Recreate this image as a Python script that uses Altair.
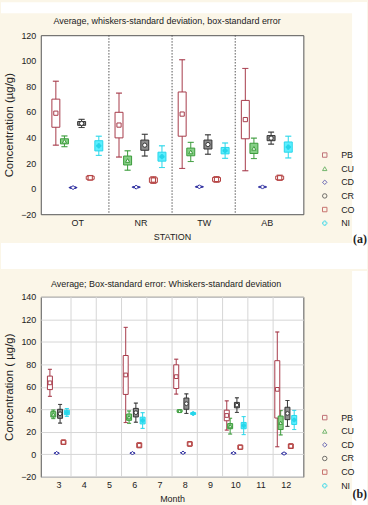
import altair as alt
import pandas as pd

# ---------------- data ----------------
elements = ["PB", "CU", "CD", "CR", "CO", "NI"]
stations = ["OT", "NR", "TW", "AB"]
months = [3, 6, 8, 10, 12]
month_ticks = [3, 4, 5, 6, 7, 8, 9, 10, 11, 12]

# (a) by station: mean, standard error (box), standard deviation (whiskers)
a_mean = {"PB": [59, 49.7, 58.3, 54], "CU": [37, 22, 28.7, 31.5], "CD": [0.8, 1.2, 1.4, 1.3],
          "CR": [51, 34, 34.5, 39.5], "CO": [8.5, 6.7, 7.2, 8.5], "NI": [33.5, 25, 29.7, 32.5]}
a_se = {"PB": [11, 10, 17.3, 15], "CU": [2, 3.5, 3, 4], "CD": [0.2, 0.2, 0.2, 0.2],
        "CR": [1.5, 4, 3.5, 2], "CO": [1.2, 1.8, 1.5, 1.3], "NI": [4, 3.5, 2.5, 4]}
a_sd = {"PB": [25, 25, 42.5, 40], "CU": [4.2, 7.6, 7.5, 8], "CD": [0.5, 0.5, 0.5, 0.5],
        "CR": [3.2, 8.5, 7.6, 4.7], "CO": [1.8, 2.6, 2.2, 2.0], "NI": [7.5, 8.5, 6, 8.5]}

# (b) by month
b_mean = {"PB": [63.5, 70.5, 69, 34.5, 57.7], "CU": [35.5, 33, 38.5, 25, 28], "CD": [1.0, 1.0, 1.3, 1.0, 0.7],
          "CR": [36, 37, 45, 43.7, 36.3], "CO": [10.7, 8, 9.2, 6.3, 7.2], "NI": [37.2, 30, 36.2, 25.5, 30.5]}
b_se = {"PB": [6, 17.3, 10.5, 4.7, 25.5], "CU": [2.4, 2.8, 1, 2.3, 6], "CD": [0.2, 0.2, 0.2, 0.2, 0.2],
        "CR": [4, 3.8, 5, 2.4, 5.5], "CO": [1.9, 2.1, 1.9, 1.8, 2.0], "NI": [2, 3, 0.8, 2.8, 4]}
b_sd = {"PB": [12, 42.3, 15.5, 13, 51], "CU": [3.8, 5.5, 1, 7, 10.8], "CD": [0.3, 0.3, 0.3, 0.3, 0.3],
        "CR": [8.3, 8.5, 8.7, 6.5, 11.5], "CO": [1.9, 2.1, 1.9, 1.8, 2.0], "NI": [3.5, 7, 0.8, 8, 8.5]}

# ---------------- styles ----------------
FONT = "Liberation Sans"
W = 264
HA = 180
HB = 181
BEIGE = "#fbf6e8"
line_colors = ["#a63a4a", "#3b9b3b", "#2b2b9e", "#333333", "#b23c3c", "#27d6ea"]
box_fills = ["#ffffff", "#86cf86", "#ffffff", "#8e8e8e", "#ffffff", "#5cefff"]
mark_fills = ["#ffffff", "#ffffff", "#ffffff", "#ffffff", "#ffffff", "#27d6ea"]
shapes = ["square", "triangle-up", "diamond", "circle", "square", "cross"]
box_keys = [e + " box" for e in elements]
mark_keys = [e + " mean" for e in elements]


def build_table(centres, means, ses, sds, step):
    rows = []
    mid = (len(elements) - 1) / 2
    for k, el in enumerate(elements):
        for i, c in enumerate(centres):
            m, se, sd = means[el][i], ses[el][i], sds[el][i]
            rows.append({"element": el, "bkey": box_keys[k], "mkey": mark_keys[k],
                         "pos": c + (k - mid) * step, "mean": m,
                         "se_lo": m - se, "se_hi": m + se, "sd_lo": m - sd, "sd_hi": m + sd})
    return pd.DataFrame(rows)


one = pd.DataFrame({"k": [0]})


def rect(x1, x2, y1, y2, color="white"):
    return alt.Chart(one).mark_rect(color=color).encode(
        x=alt.value(x1), x2=alt.value(x2), y=alt.value(y1), y2=alt.value(y2))


def label(text, x, y, size, font, weight="normal", align="center"):
    return alt.Chart(pd.DataFrame({"t": [text]})).mark_text(
        fontSize=size, font=font, fontWeight=weight, align=align, baseline="middle", color="#222"
    ).encode(text="t:N", x=alt.value(x), y=alt.value(y))


def panel(df, H, xs, x_axis, ys, yvals, y_title, grid_y, box_w, cap_w, pt_size, guide_df, guide_field,
          guide_style, decor, texts, legend_y):
    stroke_sc = alt.Scale(domain=elements, range=line_colors)
    shape_sc = alt.Scale(domain=elements, range=shapes)
    fill_sc = alt.Scale(domain=box_keys + mark_keys, range=box_fills + mark_fills)
    y_axis = alt.Axis(orient="left", values=yvals, title=y_title, titleFontSize=11.5, titleFont=FONT,
                      titleFontWeight="normal", titleColor="#222", titleX=-31, titleY=H / 2,
                      titleAngle=270, titleAlign="center", titleBaseline="middle",
                      labelFont=FONT, labelFontSize=9,
                      labelColor="#222", labelPadding=5, ticks=False,
                      domain=False, grid=grid_y, gridColor="#d6d6d6", labelFlush=False)
    leg = alt.Legend(orient="none", legendX=281, legendY=legend_y, title=None, labelFont=FONT,
                     labelFontSize=9, labelColor="#222", symbolSize=20, symbolStrokeWidth=1,
                     symbolFillColor="transparent", labelOffset=12, rowPadding=3.7, padding=0)

    def X(field):
        return alt.X(field, scale=xs, axis=x_axis)

    def Y(field):
        return alt.Y(field, scale=ys, axis=y_axis)

    col = alt.Color("element:N", scale=stroke_sc, sort=elements, legend=leg)
    base = alt.Chart(df)
    guides = alt.Chart(guide_df).mark_rule(**guide_style).encode(x=X(guide_field))
    whisk = base.mark_rule(strokeWidth=1).encode(x=X("pos:Q"), y=Y("sd_lo:Q"), y2="sd_hi:Q", color=col)
    cap_lo = base.mark_tick(orient="horizontal", size=cap_w, thickness=0, filled=False, strokeWidth=1).encode(
        x=X("pos:Q"), y=Y("sd_lo:Q"), color=col)
    cap_hi = base.mark_tick(orient="horizontal", size=cap_w, thickness=0, filled=False, strokeWidth=1).encode(
        x=X("pos:Q"), y=Y("sd_hi:Q"), color=col)
    box = base.mark_bar(size=box_w, strokeWidth=1).encode(
        x=X("pos:Q"), y=Y("se_lo:Q"), y2="se_hi:Q",
        stroke=alt.Stroke("bkey:N", scale=alt.Scale(domain=box_keys, range=line_colors), legend=None),
        fill=alt.Fill("bkey:N", scale=fill_sc, legend=None))
    pts = base.mark_point(filled=False, size=pt_size, strokeWidth=1, opacity=1).encode(
        x=X("pos:Q"), y=Y("mean:Q"), color=col,
        shape=alt.Shape("element:N", scale=shape_sc, sort=elements, legend=leg),
        fill=alt.Fill("mkey:N", scale=fill_sc, legend=None))
    layers = decor + [guides, whisk, cap_lo, cap_hi, box, pts] + texts
    return alt.layer(*layers).properties(width=W, height=H)


# ---------------- panel (a) ----------------
centres_a = [i + 0.5 for i in range(len(stations))]
df_a = build_table(centres_a, a_mean, a_se, a_sd, 0.136)
xs_a = alt.Scale(domain=[0, len(stations)], nice=False, zero=False)
ys_a = alt.Scale(domain=[-20, 120], nice=False, zero=False)
names_js = "[" + ",".join("'" + s + "'" for s in stations) + "]"
x_axis_a = alt.Axis(orient="bottom", values=centres_a, labelExpr=names_js + "[floor(datum.value)]",
                    title="STATION", ticks=False, domain=False, grid=False, labelPadding=4,
                    titlePadding=5, labelFont=FONT, labelFontSize=9, labelColor="#222", titleFont=FONT,
                    titleFontSize=9, titleFontWeight="normal", titleColor="#222", labelFlush=False)
div_df = pd.DataFrame({"b": list(range(1, len(stations)))})
decor_a = [rect(-40, 328, -33, -22), rect(313, 328, -33, 235), rect(-40, 328, 209, 235)]
texts_a = [label("Average, whiskers-standard deviation, box-standard error", W / 2 - 5, -14, 9, FONT),
           label("(a)", 328, 205, 12, "Liberation Serif", "bold", "right")]
pa = panel(df_a, HA, xs_a, x_axis_a, ys_a, list(range(-20, 121, 20)), "Concentration (µg/g)", False,
           8, 6, 18, div_df, "b:Q", {"color": "#555", "strokeWidth": 1, "strokeDash": [1.5, 1.5]},
           decor_a, texts_a, 116)

# ---------------- panel (b) ----------------
df_b = build_table(months, b_mean, b_se, b_sd, 0.134)
xs_b = alt.Scale(domain=[month_ticks[0] - 0.5, month_ticks[-1] + 0.5], nice=False, zero=False)
ys_b = alt.Scale(domain=[-20, 140], nice=False, zero=False)
x_axis_b = alt.Axis(orient="bottom", values=month_ticks, format="d", title="Month", ticks=False,
                    domain=False, grid=False, labelPadding=4, titlePadding=5, labelFont=FONT, labelFontSize=9,
                    labelColor="#222", titleFont=FONT, titleFontSize=9, titleFontWeight="normal",
                    titleColor="#222", labelFlush=False)
half_df = pd.DataFrame({"h": [m + 0.5 for m in month_ticks[:-1]]})
decor_b = [rect(313, 328, -26, 211)]
texts_b = [label("Average; Box-standard error: Whiskers-standard deviation", W / 2 - 6, -13, 9, FONT),
           label("(b)", 328, 198, 12, "Liberation Serif", "bold", "right")]
pb = panel(df_b, HB, xs_b, x_axis_b, ys_b, list(range(-20, 141, 20)), "Concentration ( µg/g)", True,
           5, 4, 14, half_df, "h:Q", {"color": "#d6d6d6", "strokeWidth": 1}, decor_b, texts_b, 117)

chart = (
    alt.vconcat(pa, pb, spacing=0)
    .resolve_legend(color="independent", shape="independent")
    .properties(padding=0, background=BEIGE)
    .configure_view(fill="white", stroke="#555", strokeWidth=1)
)
chart.save("out.html", embed_options={"renderer": "svg", "actions": False})
